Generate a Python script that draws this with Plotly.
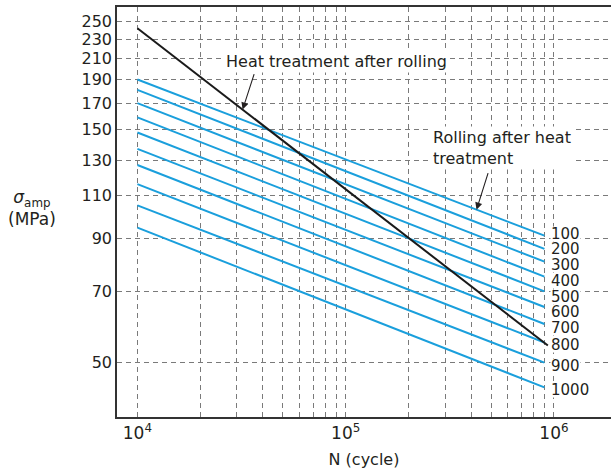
import numpy as np
import plotly.graph_objects as go

# ---- data ----
n_start = 1e4
n_end = 9e5
rolling_start = [190, 181, 170, 159, 148, 137, 127, 116, 105, 94.5]
rolling_end = [91, 85.5, 80.5, 75, 70, 65, 60, 55, 50, 44.5]
rolling_labels = ["100", "200", "300", "400", "500", "600", "700", "800", "900", "1000"]

heat_n = [1e4, 9.35e5]
heat_stress = [242, 54.2]

y_ticks = [50, 70, 90, 110, 130, 150, 170, 190, 210, 230, 250]
x_ticks = [m * 10 ** e for e in (4, 5) for m in range(1, 10)] + [1e6]
x_ticktext = [("10<sup>%d</sup>" % int(round(np.log10(v)))) if abs(np.log10(v) - round(np.log10(v))) < 1e-9 else "" for v in x_ticks]

FONT = "DejaVu Sans"
TXT = "#231f20"
BLUE = "#1a9fdc"
GRID = "#7a7a7a"

W, H = 611, 472
M = dict(l=117, r=0, t=7, b=55)
YR = [np.log10(38.7), np.log10(267.5)]
XR = [3.902, 6.274]

fig = go.Figure()
for s0, s1 in zip(rolling_start, rolling_end):
    fig.add_trace(go.Scatter(x=[n_start, n_end], y=[s0, s1], mode="lines",
                             line=dict(color=BLUE, width=2), showlegend=False, hoverinfo="skip"))
fig.add_trace(go.Scatter(x=heat_n, y=heat_stress, mode="lines",
                         line=dict(color="#1a1a1a", width=2), showlegend=False, hoverinfo="skip"))

# spread curve labels so they do not collide (pixel space)
plot_h = H - M["t"] - M["b"]
px_per_log = plot_h / (YR[1] - YR[0])
targets = [(YR[1] - np.log10(v)) * px_per_log for v in rolling_end]
pos = list(targets)
gap = 15.7
for _ in range(200):
    for i in range(len(pos) - 1):
        d = pos[i + 1] - pos[i]
        if d < gap:
            push = (gap - d) / 2
            pos[i] -= push
            pos[i + 1] += push

ann = []
for lab, s1, t, p in zip(rolling_labels, rolling_end, targets, pos):
    ann.append(dict(x=np.log10(n_end), y=np.log10(s1), text=lab, showarrow=False,
                    xanchor="left", yanchor="middle", xshift=6, yshift=-(p - t) - 3,
                    font=dict(family=FONT, size=15, color=TXT), bgcolor="white", borderpad=0,
                    height=14))

# arrow targets on the lines
def on_line(n, xs, ys):
    lx = np.log10(xs); ly = np.log10(ys)
    t = (np.log10(n) - lx[0]) / (lx[1] - lx[0])
    return np.log10(n), ly[0] + t * (ly[1] - ly[0])

hx, hy = on_line(3.2e4, heat_n, heat_stress)
ann.append(dict(x=hx, y=hy, text="", showarrow=True, arrowhead=2, arrowsize=1.3, arrowwidth=1.1,
                arrowcolor=TXT, ax=12, ay=-37, standoff=0))
rx, ry = on_line(4.25e5, [n_start, n_end], [rolling_start[0], rolling_end[0]])
ann.append(dict(x=rx, y=ry, text="", showarrow=True, arrowhead=2, arrowsize=1.3, arrowwidth=1.1,
                arrowcolor=TXT, ax=12, ay=-38, standoff=0))

ann.append(dict(x=4.418, y=np.log10(206.5), text="Heat treatment after rolling", showarrow=False,
                xanchor="left", yanchor="middle", font=dict(family=FONT, size=16, color=TXT),
                bgcolor="white", borderpad=1))
ann.append(dict(x=5.41, y=np.log10(137.9), text="Rolling after heat<br>treatment", showarrow=False,
                xanchor="left", yanchor="middle", align="left", font=dict(family=FONT, size=16, color=TXT),
                bgcolor="white", borderpad=1))

ann.append(dict(xref="paper", yref="paper", x=-0.172, y=0.51,
                text="<i>σ</i><sub>amp</sub><br>(MPa)", showarrow=False, xanchor="center", yanchor="middle",
                font=dict(family=FONT, size=17, color=TXT)))

fig.update_layout(
    width=W, height=H,
    margin=M,
    paper_bgcolor="white", plot_bgcolor="white",
    font=dict(family=FONT, size=16, color=TXT),
    annotations=ann,
    xaxis=dict(type="log", range=XR, tickvals=x_ticks, ticktext=x_ticktext,
               showgrid=True, gridcolor=GRID, griddash="5px,4px", gridwidth=1,
               showline=True, linecolor="#333", linewidth=1.5, mirror=True, ticks="",
               zeroline=False, tickfont=dict(family=FONT, size=17, color=TXT),
               title=dict(text="N (cycle)", font=dict(family=FONT, size=16, color=TXT), standoff=12)),
    yaxis=dict(type="log", range=YR, tickvals=y_ticks,
               ticktext=[str(v) for v in y_ticks],
               showgrid=True, gridcolor=GRID, griddash="5px,4px", gridwidth=1,
               showline=True, linecolor="#333", linewidth=1.5, ticks="",
               zeroline=False, tickfont=dict(family=FONT, size=16, color=TXT)),
)

fig.write_html("out.html", config={"displayModeBar": False},
               post_script="document.body.style.margin='0';document.body.style.padding='0';")
